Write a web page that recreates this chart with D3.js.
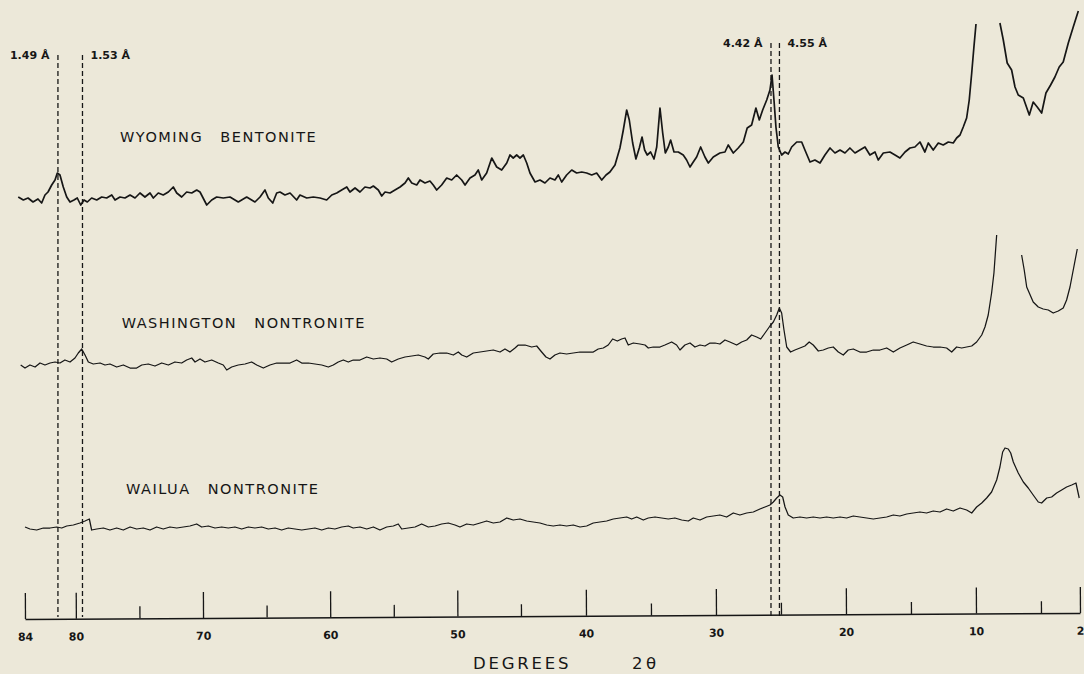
<!DOCTYPE html>
<html><head><meta charset="utf-8">
<script src="https://cdn.jsdelivr.net/npm/d3@7"></script>
<style>html,body{margin:0;padding:0;background:#ECE8D9;} svg{display:block;}</style>
</head><body><svg id="c" width="1084" height="674"></svg>
<script>
// 2θ (degrees), relative intensity (stacked, arbitrary units)
const wyoming = [[84.53,420],[84.13,417],[83.76,419],[83.37,415],[82.98,418],[82.69,414],[82.43,422],[82.19,425],[81.90,432],[81.64,437],[81.46,444],[81.25,442],[80.99,430],[80.72,420],[80.46,415],[80.15,417],[79.89,419],[79.62,412],[79.36,417],[79.10,415],[78.76,419],[78.36,417],[77.97,420],[77.58,419],[77.18,422],[76.92,417],[76.53,420],[76.14,419],[75.74,422],[75.35,419],[74.96,424],[74.57,420],[74.17,424],[73.91,419],[73.52,424],[73.13,422],[72.73,425],[72.34,430],[72.07,424],[71.68,420],[71.29,425],[70.89,424],[70.50,427],[70.24,425],[69.71,412],[69.32,417],[68.93,420],[68.41,419],[67.88,420],[67.23,415],[66.57,420],[65.92,415],[65.52,420],[65.13,427],[64.87,419],[64.52,414],[64.21,424],[63.95,425],[63.56,422],[63.16,424],[62.64,417],[62.38,422],[61.85,419],[61.33,420],[60.80,419],[60.28,417],[59.88,422],[59.49,424],[59.10,427],[58.70,430],[58.45,425],[58.05,429],[57.66,425],[57.27,430],[56.87,429],[56.61,431],[56.22,427],[55.95,421],[55.69,425],[55.30,424],[54.91,427],[54.51,430],[54.12,434],[53.86,439],[53.59,434],[53.20,432],[52.94,437],[52.55,434],[52.16,436],[51.90,432],[51.63,427],[51.24,432],[50.84,439],[50.45,437],[50.06,442],[49.66,437],[49.40,432],[49.01,439],[48.62,442],[48.36,447],[48.09,437],[47.70,444],[47.30,459],[46.91,450],[46.52,447],[46.12,454],[45.87,462],[45.61,459],[45.34,462],[45.08,459],[44.82,462],[44.56,454],[44.31,444],[43.92,435],[43.54,437],[43.16,434],[42.77,439],[42.39,437],[42.13,442],[41.87,435],[41.49,442],[41.10,447],[40.72,444],[40.33,445],[39.95,444],[39.56,442],[39.18,444],[38.79,437],[38.46,442],[38.16,445],[37.77,452],[37.39,469],[37.13,487],[36.87,507],[36.67,497],[36.41,474],[36.16,458],[35.90,469],[35.69,480],[35.49,467],[35.29,462],[35.03,465],[34.77,458],[34.56,470],[34.31,509],[34.10,484],[33.90,464],[33.67,470],[33.49,477],[33.23,465],[32.90,465],[32.52,462],[32.26,457],[32.00,450],[31.75,455],[31.49,460],[31.18,470],[30.85,460],[30.59,454],[30.21,460],[29.70,464],[29.31,465],[29.06,472],[28.67,464],[28.29,469],[27.90,475],[27.60,489],[27.26,492],[26.93,509],[26.67,497],[26.41,507],[26.10,517],[25.85,527],[25.69,542],[25.54,517],[25.39,490],[25.21,470],[24.95,462],[24.69,465],[24.44,463],[24.18,470],[23.79,475],[23.41,475],[23.16,467],[22.77,455],[22.39,457],[22.00,454],[21.62,462],[21.23,469],[20.85,464],[20.46,467],[20.08,464],[19.70,469],[19.31,464],[18.93,467],[18.54,470],[18.16,462],[17.77,465],[17.52,457],[17.13,464],[16.62,465],[16.23,462],[15.85,459],[15.46,465],[15.08,469],[14.70,470],[14.31,475],[13.93,465],[13.67,474],[13.29,467],[12.90,474],[12.52,472],[12.13,475],[11.75,474],[11.49,479],[11.23,482],[10.98,490],[10.72,499],[10.52,517],[10.33,544],[10.16,570],[10.00,593],[9.0,null],[8.16,594],[7.90,577],[7.60,554],[7.26,547],[7.00,530],[6.75,522],[6.36,519],[5.90,502],[5.60,515],[5.29,510],[4.95,504],[4.62,524],[4.26,532],[3.93,540],[3.60,550],[3.29,555],[2.90,574],[2.52,590],[2.13,606]];

const washington = [[84.34,252],[84.00,249],[83.61,252],[83.21,250],[82.82,254],[82.43,252],[82.03,254],[81.64,255],[81.25,254],[80.86,257],[80.46,255],[80.07,259],[79.81,264],[79.54,268],[79.28,262],[79.02,255],[78.63,253],[78.10,254],[77.71,252],[77.32,253],[76.79,250],[76.27,252],[75.74,249],[75.22,249],[74.82,252],[74.31,253],[73.78,251],[73.25,254],[72.73,252],[72.21,255],[71.68,254],[71.29,257],[70.89,259],[70.63,255],[70.24,258],[69.85,255],[69.32,257],[68.80,254],[68.41,252],[68.14,247],[67.75,250],[67.23,252],[66.70,253],[66.18,255],[65.78,252],[65.26,249],[64.74,252],[64.21,254],[63.69,254],[63.16,254],[62.64,257],[62.24,254],[61.72,254],[61.20,253],[60.67,252],[60.15,250],[59.76,252],[59.37,255],[58.97,257],[58.58,255],[58.19,257],[57.66,257],[57.13,260],[56.61,258],[56.09,259],[55.56,258],[55.17,255],[54.65,258],[54.12,260],[53.59,261],[53.08,262],[52.55,260],[52.29,258],[51.90,263],[51.37,264],[50.84,264],[50.32,262],[49.93,265],[49.66,262],[49.27,260],[48.75,264],[48.22,265],[47.70,266],[47.18,267],[46.65,265],[46.26,268],[45.87,265],[45.47,269],[45.21,272],[44.69,272],[44.18,270],[43.79,271],[43.41,265],[43.08,260],[42.77,258],[42.39,262],[42.00,264],[41.49,263],[40.98,264],[40.46,265],[39.95,265],[39.44,265],[39.06,268],[38.67,269],[38.29,272],[37.95,278],[37.59,276],[37.26,278],[37.00,279],[36.75,272],[36.36,274],[35.85,273],[35.46,272],[35.21,269],[34.83,270],[34.31,270],[33.93,272],[33.41,275],[33.03,272],[32.77,267],[32.39,272],[32.00,274],[31.62,270],[31.23,272],[30.85,271],[30.46,274],[30.08,274],[29.70,273],[29.31,277],[28.93,275],[28.41,272],[28.03,275],[27.64,277],[27.26,282],[26.87,280],[26.56,278],[26.23,284],[25.85,291],[25.59,295],[25.33,302],[25.13,309],[24.95,304],[24.77,287],[24.56,270],[24.26,265],[23.93,267],[23.54,269],[23.16,271],[22.83,275],[22.52,272],[22.13,266],[21.75,267],[21.36,269],[20.98,270],[20.59,265],[20.21,262],[19.83,267],[19.44,268],[18.93,265],[18.41,265],[17.90,267],[17.39,267],[16.87,269],[16.36,265],[15.85,269],[15.33,272],[14.83,275],[14.31,273],[13.80,271],[13.29,270],[12.77,270],[12.26,269],[11.87,265],[11.49,270],[11.10,269],[10.72,270],[10.33,271],[9.95,275],[9.56,282],[9.31,290],[9.06,302],[8.80,324],[8.62,344],[8.41,382],[7.5,null],[6.49,362],[6.29,347],[6.10,330],[5.90,324],[5.60,315],[5.21,310],[4.83,308],[4.44,307],[4.06,304],[3.67,306],[3.29,309],[3.03,317],[2.77,330],[2.52,347],[2.21,368]];

const wailua = [[84.00,90],[83.61,88],[83.08,87],[82.56,89],[82.03,89],[81.51,90],[81.11,89],[80.72,91],[80.20,92],[79.68,94],[79.28,96],[78.94,98],[78.76,87],[78.36,88],[77.84,89],[77.32,87],[76.79,89],[76.27,87],[75.74,90],[75.22,88],[74.70,89],[74.17,87],[73.65,90],[73.13,88],[72.60,90],[72.07,89],[71.55,90],[71.03,91],[70.50,93],[70.11,90],[69.59,91],[69.06,89],[68.53,90],[68.02,89],[67.49,90],[66.96,88],[66.44,90],[65.92,89],[65.39,90],[64.87,88],[64.34,89],[63.82,87],[63.30,89],[62.77,88],[62.24,87],[61.72,88],[61.20,89],[60.67,87],[60.15,89],[59.63,88],[59.10,90],[58.58,91],[58.19,89],[57.66,90],[57.13,88],[56.61,90],[56.09,87],[55.56,90],[55.04,91],[54.65,93],[54.38,88],[53.86,89],[53.33,90],[52.81,93],[52.29,90],[51.76,91],[51.24,93],[50.72,94],[50.19,92],[49.80,90],[49.27,93],[48.75,92],[48.22,94],[47.70,96],[47.18,94],[46.65,95],[46.12,99],[45.61,97],[45.08,98],[44.56,96],[44.06,95],[43.54,94],[43.02,92],[42.52,91],[42.00,92],[41.49,91],[40.98,92],[40.46,90],[39.95,91],[39.44,94],[38.93,95],[38.41,96],[37.90,98],[37.39,99],[36.87,100],[36.49,98],[36.10,100],[35.59,97],[35.21,99],[34.69,100],[34.18,99],[33.67,98],[33.16,99],[32.64,97],[32.13,96],[31.75,99],[31.23,97],[30.72,100],[30.21,101],[29.70,102],[29.18,100],[28.67,104],[28.16,102],[27.64,104],[27.13,105],[26.62,108],[26.23,110],[25.85,112],[25.59,115],[25.33,119],[25.08,122],[24.87,120],[24.69,110],[24.44,102],[24.06,99],[23.54,100],[23.03,99],[22.52,100],[22.00,99],[21.49,100],[20.98,99],[20.46,100],[19.95,99],[19.44,101],[18.93,100],[18.41,99],[17.90,98],[17.39,99],[16.87,100],[16.36,102],[15.85,101],[15.33,103],[14.83,104],[14.31,105],[13.80,104],[13.29,106],[12.77,105],[12.26,108],[11.75,106],[11.23,109],[10.72,107],[10.33,104],[9.95,110],[9.56,114],[9.18,119],[8.80,125],[8.41,137],[8.16,150],[7.95,165],[7.77,169],[7.52,168],[7.33,164],[7.13,155],[6.75,144],[6.36,135],[5.98,129],[5.60,122],[5.21,115],[4.95,114],[4.56,119],[4.18,120],[3.80,124],[3.41,127],[3.03,130],[2.64,132],[2.31,134],[2.06,119]];

const sampleNames = ["WYOMING BENTONITE", "WASHINGTON NONTRONITE", "WAILUA NONTRONITE"];
const sampleLabelAt = [[76.53, 475], [76.40, 289.5], [76.06, 123]];   // [2θ, intensity] of label start
const majorTicks = [84, 80, 70, 60, 50, 40, 30, 20, 10, 2];
const minorTicks = [75, 65, 55, 45, 35, 25, 15, 5];
const dSpacings = ["1.49", "1.53", "4.42", "4.55"];
const dSpacingDeg = [81.41, 79.48, 25.77, 25.12];
const dLineTop = [562, 562, 574, 574];
const dLabelSide = ["left", "right", "left", "right"];
const axisTitle = ["DEGREES", "2θ"];

const svg = d3.select("#c");
const W = 1084, H = 674;
svg.append("rect").attr("width", W).attr("height", H).attr("fill", "#ECE8D9");

const x = d3.scaleLinear().domain([84, 45, 2]).range([25, 521, 1080]);
const y = d3.scaleLinear().domain([0, 600]).range([617, 17]);
const ink = "#161616";

// dashed d-spacing lines
const dl = svg.append("g");
dSpacings.forEach((d, i) => {
  const xp = x(dSpacingDeg[i]);
  dl.append("line").attr("x1", xp).attr("x2", xp)
    .attr("y1", y(dLineTop[i])).attr("y2", y(0))
    .attr("stroke", ink).attr("stroke-width", 1.3).attr("stroke-dasharray", "5,3");
  const left = dLabelSide[i] === "left";
  dl.append("text")
    .attr("x", left ? xp - 8.5 : xp + 8)
    .attr("y", y(dLineTop[i] - 4))
    .attr("text-anchor", left ? "end" : "start")
    .attr("font-family", "DejaVu Sans").attr("font-weight", "bold").attr("font-size", 11)
    .attr("fill", ink)
    .text(d + " Å");
});

// traces
const line = d3.line().defined(d => d[1] != null).x(d => x(d[0])).y(d => y(d[1]));
const series = [wyoming, washington, wailua];
const widths = [1.7, 1.25, 1.25];
series.forEach((s, i) => {
  svg.append("path").datum(s).attr("d", line)
    .attr("fill", "none").attr("stroke", ink).attr("stroke-width", widths[i])
    .attr("stroke-linejoin", "round");
});

// sample labels
sampleNames.forEach((n, i) => {
  svg.append("text")
    .attr("x", x(sampleLabelAt[i][0])).attr("y", y(sampleLabelAt[i][1]))
    .attr("font-family", "DejaVu Sans").attr("font-size", 14.5)
    .attr("letter-spacing", 1.5).attr("word-spacing", 11)
    .attr("fill", ink).text(n);
});

// axis
const ag = svg.append("g").attr("transform", "translate(0,619) rotate(-0.33 25 0)");
ag.call(d3.axisBottom(x).tickValues(majorTicks).tickSizeInner(-26).tickSizeOuter(0).tickPadding(14).tickFormat(d3.format("d")));
const mg = svg.append("g").attr("transform", "translate(0,619) rotate(-0.33 25 0)");
mg.call(d3.axisBottom(x).tickValues(minorTicks).tickSizeInner(-12).tickSizeOuter(0).tickFormat(""));
mg.select(".domain").remove();
svg.selectAll(".domain").attr("stroke", ink).attr("stroke-width", 1.5);
svg.selectAll(".tick line").attr("stroke", ink).attr("stroke-width", 1.3);
ag.selectAll(".tick text").attr("font-family", "DejaVu Sans").attr("font-weight", "bold")
  .attr("font-size", 11).attr("fill", ink);

// axis title
svg.append("text").attr("x", 473).attr("y", 669)
  .attr("font-family", "DejaVu Sans").attr("font-size", 16.5).attr("letter-spacing", 2.8)
  .attr("fill", ink).text(axisTitle[0]);
svg.append("text").attr("x", 632).attr("y", 669)
  .attr("font-family", "DejaVu Sans").attr("font-size", 16.5).attr("letter-spacing", 3.5)
  .attr("fill", ink).text(axisTitle[1]);
</script></body></html>
